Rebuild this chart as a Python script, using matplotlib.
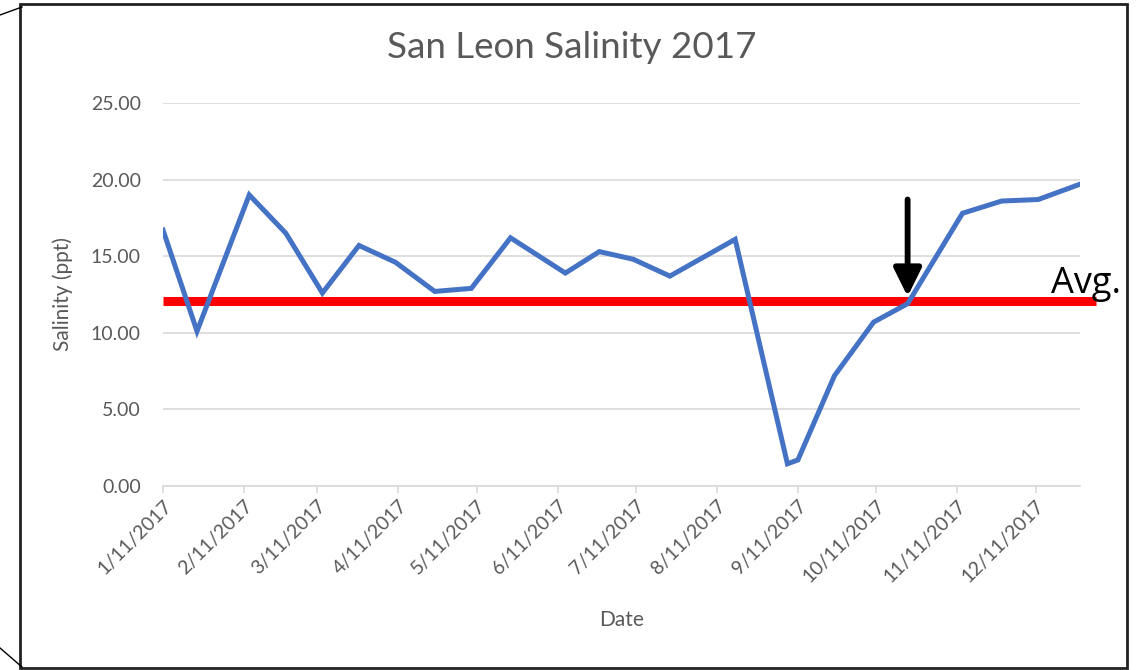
import datetime as dt
import matplotlib
matplotlib.use("Agg")
import matplotlib.pyplot as plt
import matplotlib.dates as mdates
from matplotlib.lines import Line2D
from matplotlib.patches import Rectangle

plt.rcParams['font.family'] = ['Lato', 'DejaVu Sans']

# sample dates (2017) and salinity readings (ppt)
dates = ["2017-01-11", "2017-01-24", "2017-02-13", "2017-02-27", "2017-03-13",
         "2017-03-27", "2017-04-10", "2017-04-25", "2017-05-09", "2017-05-24",
         "2017-06-14", "2017-06-27", "2017-07-10", "2017-07-24", "2017-08-18",
         "2017-09-07", "2017-09-11", "2017-09-25", "2017-10-10", "2017-10-23",
         "2017-11-13", "2017-11-28", "2017-12-12", "2017-12-28"]
salinity = [16.7, 10.1, 19.0, 16.5, 12.6,
            15.7, 14.6, 12.7, 12.9, 16.2,
            13.9, 15.3, 14.8, 13.7, 16.1,
            1.45, 1.7, 7.2, 10.7, 11.9,
            17.8, 18.6, 18.7, 19.7]
avg_value = 12.07
arrow_idx = 19
y_ticks = [0, 5, 10, 15, 20, 25]

x = [dt.datetime.strptime(d, "%Y-%m-%d") for d in dates]

fig = plt.figure(figsize=(11.37, 6.7), dpi=100)
ax = fig.add_axes([0.1434, 0.2746, 0.8065, 0.5717])

grey = "#595959"
ax.set_ylim(0, 25)
ax.set_xlim(x[0], x[-1])
ax.set_yticks(y_ticks)
ax.set_yticklabels([f"{v:.2f}" for v in y_ticks], fontsize=14, color=grey)
ax.grid(axis="y", color="#d9d9d9", linewidth=1.2)
ax.set_axisbelow(True)
for s in ["top", "right", "left"]:
    ax.spines[s].set_visible(False)
ax.spines["bottom"].set_color("#d9d9d9")
ax.spines["bottom"].set_linewidth(1.2)
ax.tick_params(axis="y", length=0, pad=16)
ax.tick_params(axis="x", length=5, color="#d9d9d9", width=1.2, pad=3)

ax.xaxis.set_major_locator(mdates.MonthLocator(bymonthday=11))
ax.xaxis.set_major_formatter(plt.FuncFormatter(
    lambda v, p: "{0.month}/{0.day}/{0.year}".format(mdates.num2date(v))))
for lab in ax.get_xticklabels():
    lab.set_rotation(45)
    lab.set_ha("right")
    lab.set_rotation_mode("anchor")
    lab.set_fontsize(14)
    lab.set_color(grey)

ax.plot(x, salinity, color="#4472C4", linewidth=3.6, solid_joinstyle="miter", zorder=3)

# average line runs a bit past the plot area
avg_end = x[-1] + dt.timedelta(days=6)
ax.plot([x[0], avg_end], [avg_value, avg_value], color="#FF0000",
        linewidth=6.5, solid_capstyle="butt", clip_on=False, zorder=2)
ax.annotate("Avg.", xy=(avg_end, avg_value), xytext=(-32, 6), textcoords="offset points",
            fontsize=26, color="black", ha="left", va="baseline",
            family=["Open Sans", "DejaVu Sans"], annotation_clip=False)

ax.annotate("", xy=(x[arrow_idx], avg_value + 0.3), xytext=(x[arrow_idx], 18.7),
            arrowprops=dict(arrowstyle="-|>,head_width=0.42,head_length=0.85",
                            mutation_scale=20, color="black", lw=4.2,
                            shrinkA=0, shrinkB=0), zorder=4)

fig.text(572 / 1137, 1 - 58 / 670, "San Leon Salinity 2017", fontsize=26.5, color=grey,
         ha="center", va="baseline")
ax.set_xlabel("Date", fontsize=15, color=grey)
ax.xaxis.set_label_coords(0.5, -(620 - 486) / 383, transform=ax.transAxes)
ax.xaxis.label.set_va("center")
ax.set_ylabel("Salinity (ppt)", fontsize=15, color=grey)
ax.yaxis.set_label_coords(-(163 - 63) / 917, 0.5, transform=ax.transAxes)
ax.yaxis.label.set_va("center")

# outer chart frame and the stray corner lines
fig.add_artist(Rectangle((20 / 1137, 1 - 668 / 670), (1127 - 20) / 1137, (668 - 4) / 670,
                         transform=fig.transFigure, fill=False, edgecolor="#222222", lw=2))
fig.add_artist(Line2D([0, 22 / 1137], [1 - 15 / 670, 1 - 7 / 670], transform=fig.transFigure,
                      color="black", lw=1))
fig.add_artist(Line2D([0, 22 / 1137], [1 - 648 / 670, 1 - 667 / 670], transform=fig.transFigure,
                      color="black", lw=1))

fig.savefig("out.png", dpi=100)
